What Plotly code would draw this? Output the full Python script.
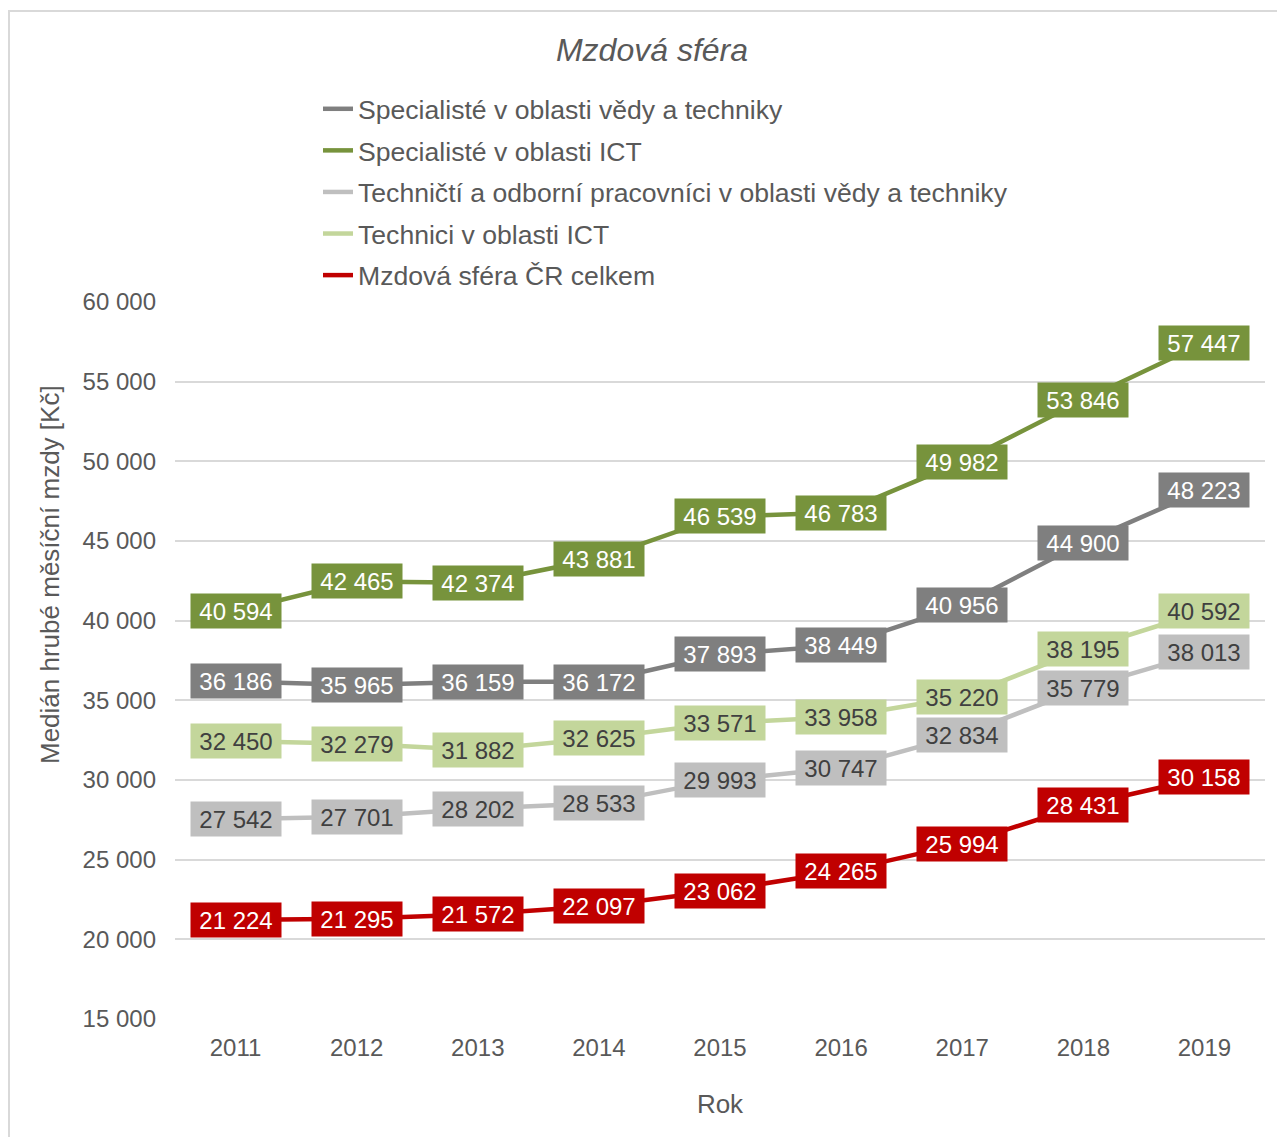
import plotly.graph_objects as go

years = ["2011", "2012", "2013", "2014", "2015", "2016", "2017", "2018", "2019"]

spec_veda = [36186, 35965, 36159, 36172, 37893, 38449, 40956, 44900, 48223]
spec_ict = [40594, 42465, 42374, 43881, 46539, 46783, 49982, 53846, 57447]
tech_veda = [27542, 27701, 28202, 28533, 29993, 30747, 32834, 35779, 38013]
tech_ict = [32450, 32279, 31882, 32625, 33571, 33958, 35220, 38195, 40592]
celkem = [21224, 21295, 21572, 22097, 23062, 24265, 25994, 28431, 30158]

names = [
    "Specialisté v oblasti vědy a techniky",
    "Specialisté v oblasti ICT",
    "Techničtí a odborní pracovníci v oblasti vědy a techniky",
    "Technici v oblasti ICT",
    "Mzdová sféra ČR celkem",
]
series = [spec_veda, spec_ict, tech_veda, tech_ict, celkem]
colors = ["#7f7f7f", "#77933c", "#bfbfbf", "#c3d69b", "#c00000"]
label_font_colors = ["#ffffff", "#ffffff", "#404040", "#404040", "#ffffff"]

FONT = "Arial, Liberation Sans, sans-serif"
OFF = 8  # page body margin
W, H = 1285 - OFF, 1137 - OFF
ML, MR, MT, MB = 175 - OFF, 20, 302 - OFF, 118
PW, PH = W - ML - MR, H - MT - MB


def px_to_paper_x(px):
    return (px - OFF - ML) / PW


def px_to_paper_y(py):
    return (H - MB - (py - OFF)) / PH


fig = go.Figure()
annotations = []
for i, (name, vals, col, fcol) in enumerate(zip(names, series, colors, label_font_colors)):
    fig.add_trace(go.Scatter(
        x=years, y=vals, name=name, mode="lines",
        line=dict(color=col, width=4.5),
        legendgroup=f"g{i}",
    ))
    for j, v in enumerate(vals):
        annotations.append(dict(
            x=j, y=v, xref="x", yref="y",
            text=f"{v:,}".replace(",", " "),
            showarrow=False, bgcolor=col,
            font=dict(family=FONT, size=24, color=fcol),
            width=84, height=28, borderpad=3,
            xanchor="center", yanchor="middle",
        ))

annotations.append(dict(
    text="Medián hrubé měsíční mzdy [Kč]", textangle=-90,
    x=px_to_paper_x(50), y=px_to_paper_y(575), xref="paper", yref="paper",
    showarrow=False, xanchor="center", yanchor="middle",
    font=dict(family=FONT, size=26, color="#595959"),
))

fig.update_layout(
    width=W, height=H,
    margin=dict(l=ML, r=MR, t=MT, b=MB),
    paper_bgcolor="white", plot_bgcolor="white",
    separators=", ",
    title=dict(text="<i>Mzdová sféra</i>", x=(652 - OFF) / W, xref="container", xanchor="center",
               y=1 - (50 - OFF) / H, yref="container", yanchor="middle",
               font=dict(family=FONT, size=32, color="#595959")),
    font=dict(family=FONT, color="#595959"),
    legend=dict(
        x=px_to_paper_x(318), xanchor="left",
        y=px_to_paper_y(85), yanchor="top",
        font=dict(family=FONT, size=26.6, color="#595959"),
        bgcolor="rgba(0,0,0,0)", traceorder="grouped", tracegroupgap=4,
    ),
    xaxis=dict(
        type="category", range=[-0.5, 8.5], showgrid=False, zeroline=False,
        showline=False, ticks="", tickfont=dict(family=FONT, size=24, color="#595959"),
        ticklabelstandoff=12,
        title=dict(text="Rok", font=dict(family=FONT, size=26, color="#595959"), standoff=34),
    ),
    yaxis=dict(
        range=[15000, 60000], dtick=5000, tickformat=",d",
        showgrid=True, gridcolor="#d9d9d9", gridwidth=2, zeroline=False, showline=False,
        ticks="", ticklen=0, tickfont=dict(family=FONT, size=24, color="#595959"),
        ticklabelstandoff=18,
    ),
    annotations=annotations,
    shapes=[dict(
        type="rect", xref="paper", yref="paper",
        x0=px_to_paper_x(9), x1=px_to_paper_x(1300),
        y0=px_to_paper_y(1150), y1=px_to_paper_y(11),
        line=dict(color="#d9d9d9", width=2), fillcolor="rgba(0,0,0,0)", layer="below",
    )],
)

fig.write_html("out.html")
